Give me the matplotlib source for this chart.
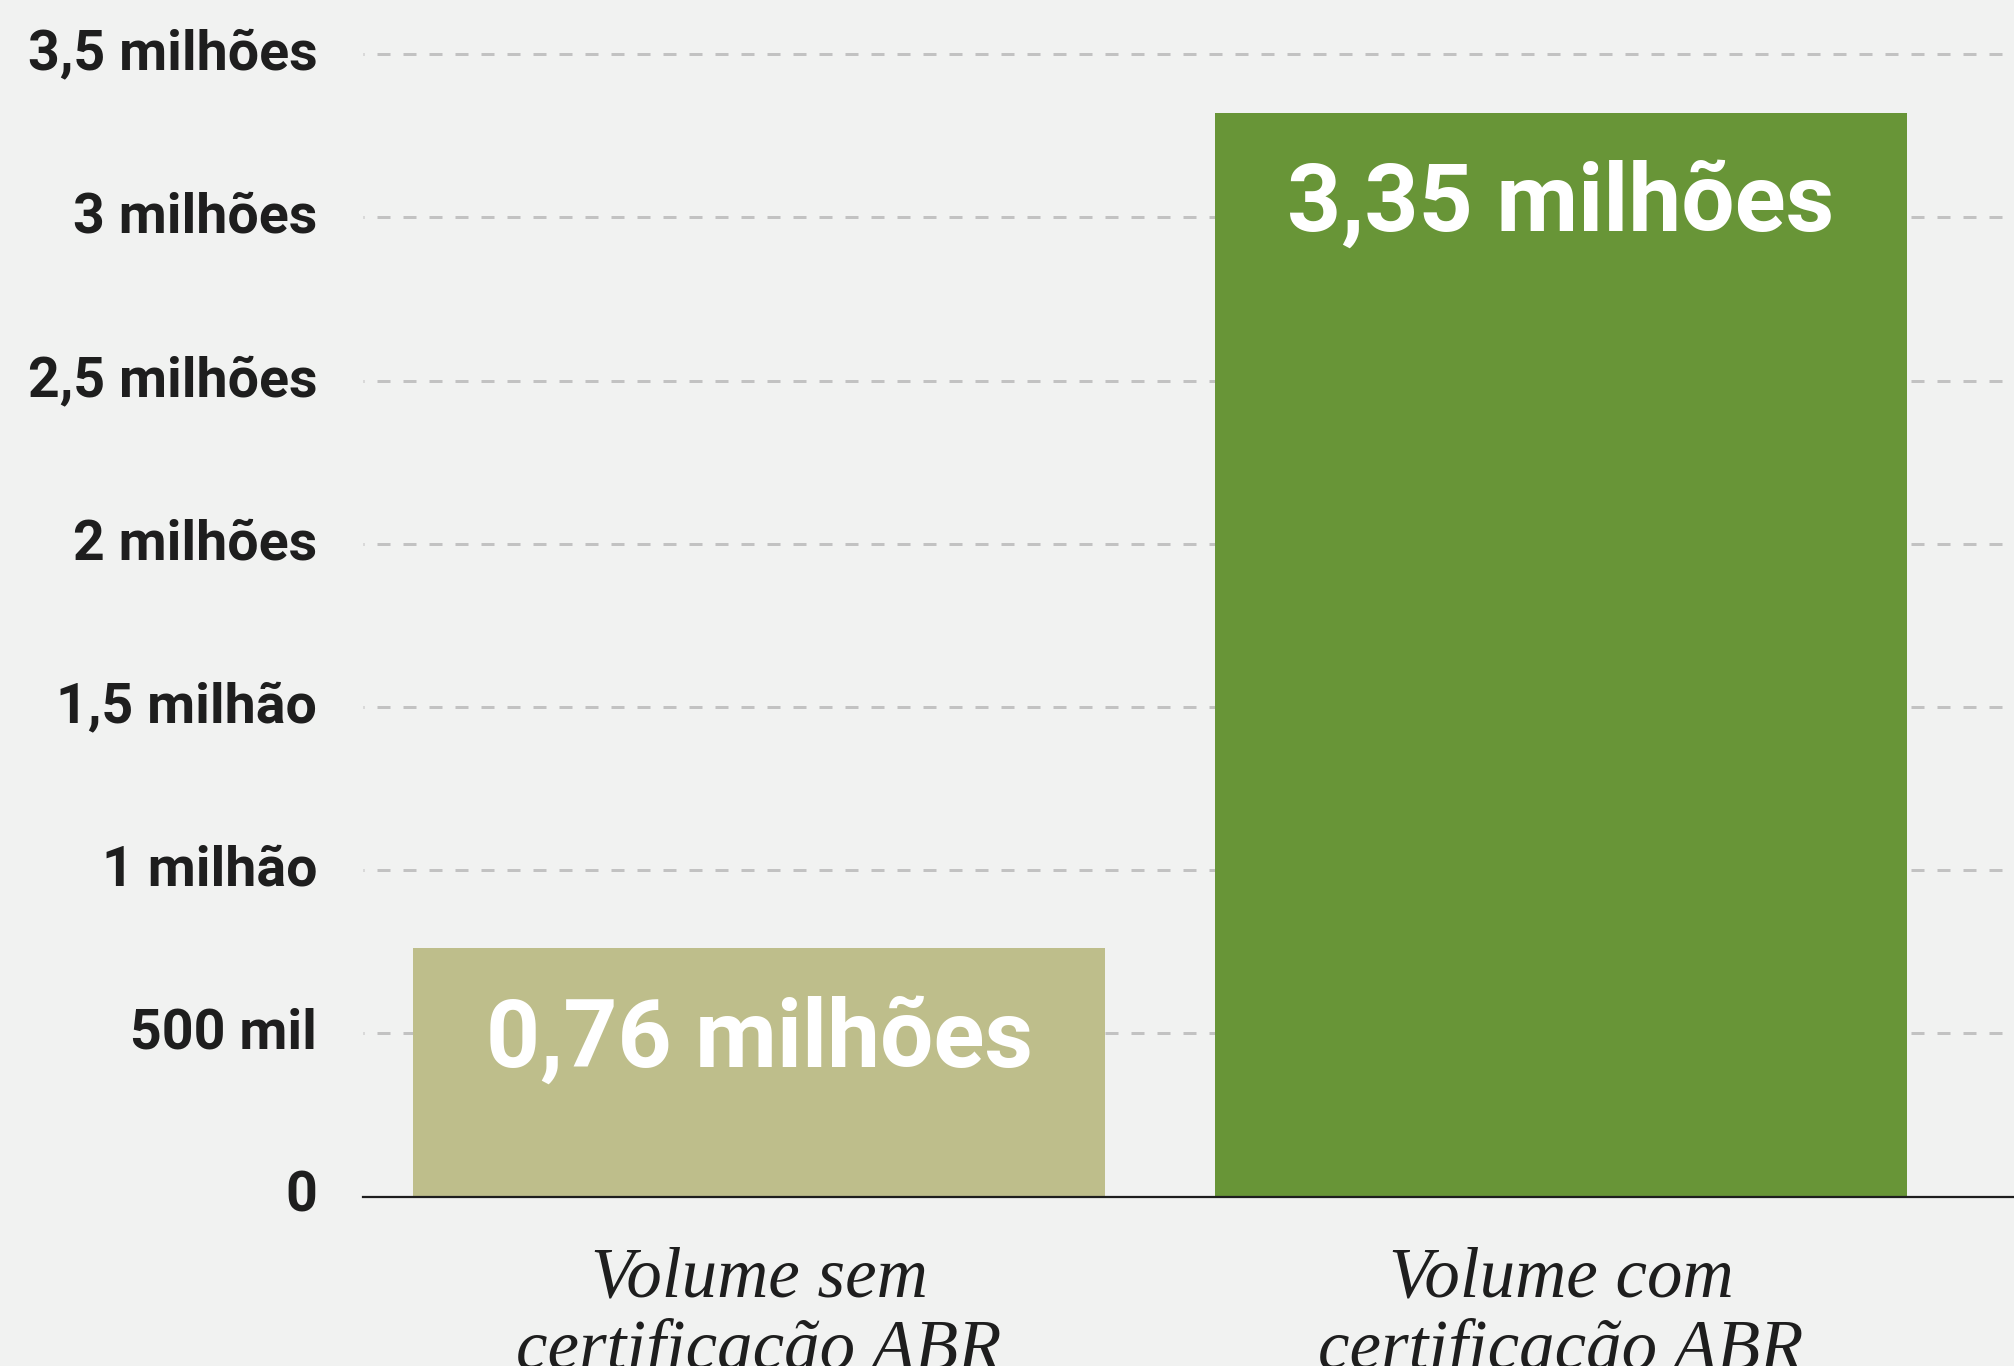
import matplotlib
matplotlib.use("Agg")
import matplotlib.pyplot as plt
from matplotlib.transforms import ScaledTranslation

# ---- data ----
categories = ["Volume sem\ncertificação ABR", "Volume com\ncertificação ABR"]
values = [0.76, 3.32]  # milhões (bar heights as drawn)
value_labels = ["0,76 milhões", "3,35 milhões"]
y_ticks = [0, 0.5, 1.0, 1.5, 2.0, 2.5, 3.0, 3.5]
y_tick_labels = ["0", "500 mil", "1 milhão", "1,5 milhão", "2 milhões",
                 "2,5 milhões", "3 milhões", "3,5 milhões"]
bar_colors = ["#bebe8b", "#689537"]

# ---- style ----
BG = "#f1f2f1"
DARK = "#1e1e1e"
GRID = "#c2c2c2"
SANS = "Roboto"
SERIF = "Liberation Serif"

W, H, DPI = 2014, 1366, 100
fig = plt.figure(figsize=(W / DPI, H / DPI), dpi=DPI, facecolor=BG)
ax_left, ax_bottom_px = 363, 1196.5
ax = fig.add_axes([ax_left / W, (H - ax_bottom_px) / H, 1 - ax_left / W, ax_bottom_px / H])
ax.set_facecolor(BG)

px_per_unit = 326.4
x = list(range(len(values)))
ax.bar(x, values, width=0.863, color=bar_colors, zorder=2)

ax.set_xlim(-0.4938, 1.5648)
ax.set_ylim(0, ax_bottom_px / px_per_unit)

# grid
lw_px = 3
lw = lw_px * 72 / DPI
on = 13 * 72 / DPI / lw
off = 13 * 72 / DPI / lw
ax.set_yticks(y_ticks)
ax.set_yticklabels(y_tick_labels)
ax.yaxis.grid(True, color=GRID, linewidth=lw, linestyle=(4, (on, off)), zorder=0)
ax.set_axisbelow(True)

for s in ["left", "top", "right"]:
    ax.spines[s].set_visible(False)
ax.spines["bottom"].set_color(DARK)
ax.spines["bottom"].set_linewidth(1.6)
ax.spines["bottom"].set_zorder(3)

ax.tick_params(axis="y", length=0, pad=33, labelsize=40, labelcolor=DARK)
shift_up = ScaledTranslation(0, 5 / DPI, fig.dpi_scale_trans)
for tick in ax.yaxis.get_major_ticks():
    t = tick.label1
    t.set_fontfamily(SANS)
    t.set_fontweight("bold")
    t.set_transform(t.get_transform() + shift_up)

ax.set_xticks(x)
ax.set_xticklabels(categories)
ax.tick_params(axis="x", length=0, pad=36, labelcolor=DARK)
for t in ax.get_xticklabels():
    t.set_fontfamily(SERIF)
    t.set_fontstyle("italic")
    t.set_fontsize(51)
    t.set_linespacing(1.12)

# value labels inside bars
for xi, v, lab in zip(x, values, value_labels):
    ax.annotate(lab, xy=(xi, v), xytext=(0, -85), textcoords="offset points",
                ha="center", va="baseline", color="white", fontsize=68,
                fontfamily=SANS, fontweight="bold", zorder=4)

fig.savefig("out.png", dpi=DPI, facecolor=BG)
